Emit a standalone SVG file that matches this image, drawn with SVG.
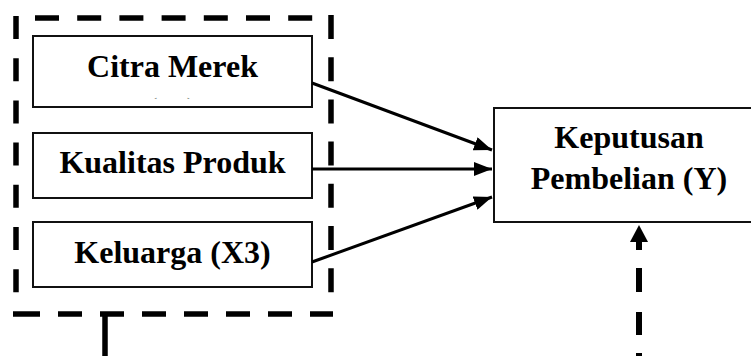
<svg xmlns="http://www.w3.org/2000/svg" width="751" height="356" viewBox="0 0 751 356">
  <style>
    .box { fill: #ffffff; stroke: #111111; stroke-width: 2; }
    .label { font-family: "Liberation Serif", "Times New Roman", serif; font-weight: bold; font-size: 32px; fill: #000000; text-anchor: middle; }
    .sub { font-family: "Liberation Serif", "Times New Roman", serif; font-weight: bold; font-size: 24px; fill: #000000; text-anchor: middle; }
    .frame { fill: none; stroke: #000000; stroke-width: 5.5; }
    .link { fill: none; stroke: #000000; stroke-width: 3; }
    .dash { fill: none; stroke: #000000; stroke-width: 6; }
  </style>
  <defs>
    <marker id="head" markerUnits="userSpaceOnUse" markerWidth="18" markerHeight="14" refX="18" refY="7" orient="auto">
      <path d="M0,0 L18,7 L0,14 Z" fill="#000000"/>
    </marker>
    <clipPath id="subClip">
      <rect x="130" y="96.5" width="90" height="2"/>
    </clipPath>
  </defs>

  <rect width="751" height="356" fill="#ffffff"/>

  <!-- dashed grouping frame around the independent variables -->
  <g id="group-frame">
    <path class="frame" d="M35 18 H313" stroke-dasharray="24 18.2"/>
    <path class="frame" d="M16 16 V293" stroke-dasharray="23 19.2"/>
    <path class="frame" d="M331 15 V293" stroke-dasharray="24 18.2"/>
    <path class="frame" d="M13 314 H333" stroke-dasharray="27 18 24 18 24 18 24 18 24 18 24 18 24 18 23 10"/>
  </g>

  <g id="node-x1">
    <rect class="box" x="33" y="36" width="279" height="71"/>
    <text class="label" x="172.5" y="76.5">Citra Merek</text>
    <text class="sub" x="172" y="114" clip-path="url(#subClip)">(X1)</text>
  </g>

  <g id="node-x2">
    <rect class="box" x="33" y="133" width="279" height="65"/>
    <text class="label" x="172.5" y="173">Kualitas Produk</text>
  </g>

  <g id="node-x3">
    <rect class="box" x="33" y="222" width="279" height="65"/>
    <text class="label" x="172.5" y="263">Keluarga (X3)</text>
  </g>

  <g id="node-y">
    <rect class="box" x="494" y="108" width="272" height="114"/>
    <text class="label" x="629" y="148">Keputusan</text>
    <text class="label" x="629" y="189">Pembelian (Y)</text>
  </g>

  <g id="connectors">
    <line class="link" x1="312" y1="83" x2="492" y2="150" marker-end="url(#head)"/>
    <line class="link" x1="312" y1="169" x2="492" y2="169" marker-end="url(#head)"/>
    <line class="link" x1="312" y1="262" x2="492" y2="197" marker-end="url(#head)"/>
    <!-- line leaving the frame downwards -->
    <line x1="105" y1="312" x2="105" y2="356" stroke="#000000" stroke-width="5.5"/>
    <!-- dashed arrow rising into the dependent variable -->
    <path class="dash" d="M639 242 V360" stroke-dasharray="8 18 24 20 23 18 30"/>
    <path d="M639 225 L648 242 L630 242 Z" fill="#000000"/>
  </g>
</svg>
